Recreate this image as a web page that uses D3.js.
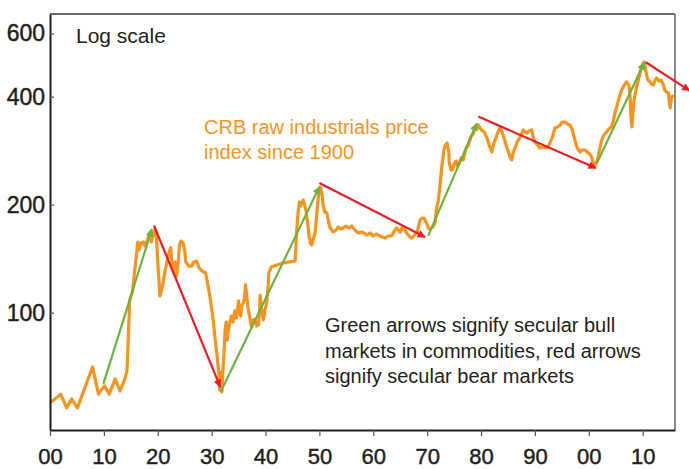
<!DOCTYPE html>
<html>
<head>
<meta charset="utf-8">
<script src="https://cdn.jsdelivr.net/npm/d3@7"></script>
<style>
  body { margin: 0; background: #fff; }
  svg { display: block; }
  .axis text { font-family: "Liberation Sans Narrow", "Arial Narrow", "Liberation Sans", Arial, sans-serif; font-size: 23px; fill: #231f20; stroke: #231f20; stroke-width: 0.45px; }
  .x-axis text { font-size: 22px; }
  .note { font-family: "Liberation Sans", Arial, sans-serif; font-size: 20px; fill: #231f20; }
</style>
</head>
<body>
<svg id="chart"></svg>
<script>
// CRB raw industrials
var years = [1900.0,1902.0,1903.1,1904.0,1905.1,1907.9,1909.0,1910.1,1911.0,1912.1,1913.0,1913.9,1914.3,1914.8,1915.3,1915.6,1916.3,1916.5,1916.9,1917.3,1917.6,1918.0,1918.3,1918.6,1918.8,1919.1,1919.5,1919.8,1920.0,1920.4,1920.8,1921.3,1921.7,1922.1,1922.4,1922.6,1922.9,1923.2,1923.5,1923.8,1924.0,1924.3,1924.7,1925.0,1925.2,1925.8,1926.3,1926.7,1927.2,1927.7,1928.2,1928.9,1929.3,1929.7,1930.3,1930.6,1931.0,1931.3,1931.5,1931.6,1931.9,1932.1,1932.3,1932.5,1932.7,1932.9,1933.1,1933.4,1933.7,1934.0,1934.3,1934.6,1935.0,1935.2,1935.4,1935.6,1935.9,1936.1,1936.3,1936.6,1936.8,1937.1,1937.4,1937.7,1938.0,1938.4,1938.7,1938.9,1939.0,1939.3,1939.6,1939.9,1940.2,1940.5,1940.6,1941.1,1942.1,1943.3,1944.5,1945.5,1945.8,1946.0,1946.3,1946.5,1946.7,1947.0,1947.2,1947.5,1947.8,1948.1,1948.4,1948.6,1948.8,1949.2,1949.5,1949.8,1950.2,1950.5,1950.7,1951.0,1951.4,1951.7,1952.0,1952.6,1953.1,1953.5,1954.0,1954.4,1954.9,1955.5,1956.0,1956.6,1957.2,1957.9,1958.8,1959.4,1960.0,1960.6,1961.2,1962.2,1962.7,1963.4,1963.8,1964.3,1964.6,1965.0,1965.3,1965.9,1966.3,1966.5,1967.0,1967.4,1967.7,1968.2,1968.5,1968.7,1969.0,1969.4,1969.8,1970.0,1970.4,1970.8,1971.2,1971.5,1971.7,1972.1,1972.4,1972.7,1972.9,1973.1,1973.4,1973.7,1974.0,1974.1,1974.4,1974.7,1975.0,1975.4,1975.6,1976.0,1976.3,1976.7,1977.0,1977.3,1977.6,1978.1,1978.6,1978.9,1979.2,1979.5,1979.8,1980.1,1980.6,1981.1,1981.5,1982.0,1982.2,1982.6,1983.0,1983.5,1983.9,1984.4,1984.7,1985.1,1985.4,1985.7,1985.9,1986.3,1986.7,1987.2,1987.5,1987.8,1988.2,1988.5,1988.9,1989.4,1989.6,1990.0,1990.5,1990.9,1991.5,1992.2,1992.5,1992.8,1993.3,1993.7,1994.2,1994.7,1995.1,1995.6,1996.0,1996.5,1996.9,1997.1,1997.4,1997.8,1998.1,1998.4,1998.8,1999.3,1999.9,2000.2,2000.5,2000.8,2001.0,2001.2,2001.6,2001.9,2002.4,2002.8,2003.3,2003.7,2004.2,2004.6,2004.9,2005.2,2005.5,2005.8,2006.1,2006.4,2006.7,2007.0,2007.3,2007.5,2007.7,2007.8,2008.0,2008.1,2008.3,2008.4,2008.8,2009.2,2009.5,2009.8,2010.1,2010.3,2010.5,2010.8,2011.0,2011.4,2011.6,2012.0,2012.3,2012.6,2013.0,2013.4,2013.8,2014.1,2014.4,2014.8,2014.9,2015.1,2015.3,2015.4,2015.7];
var values = [56.0,59.3,54.3,57.5,54.3,70.6,59.3,62.5,59.3,65.4,60.5,65.4,69.2,108.5,114.2,125.7,157.4,149.5,156.4,157.4,153.4,158.4,162.6,167.9,157.4,164.7,171.1,159.5,138.5,111.3,117.2,129.0,138.5,147.6,151.5,138.5,129.9,138.5,126.6,138.5,153.4,158.4,156.4,149.5,138.5,134.9,134.9,138.5,139.3,133.2,130.7,129.0,119.5,110.6,95.4,85.6,76.2,68.3,60.9,68.3,60.1,69.2,77.2,89.5,94.2,83.9,89.5,94.2,97.9,94.2,101.1,96.7,107.8,100.4,97.9,105.1,106.4,109.9,119.5,108.5,101.8,96.7,91.2,95.4,96.0,91.8,92.4,101.8,112.0,101.8,95.4,101.8,106.4,119.5,129.0,134.1,135.8,137.6,138.5,139.3,170.0,187.2,203.5,198.3,202.2,206.1,200.9,193.3,179.0,162.6,155.4,154.4,159.5,166.8,187.2,210.1,224.0,212.9,198.3,190.8,189.6,179.0,172.2,167.9,170.0,173.3,171.1,172.2,174.4,172.2,174.4,170.0,166.8,167.9,164.7,166.8,163.6,165.7,163.6,161.5,163.6,163.6,167.9,172.2,170.0,167.9,172.2,170.0,165.7,164.7,161.5,162.6,164.7,168.9,176.7,181.3,183.6,183.6,179.0,175.6,171.1,172.2,174.4,179.0,193.3,206.1,226.9,254.7,266.4,284.1,293.4,297.2,280.5,263.0,249.9,249.9,259.7,264.7,256.4,261.4,269.9,266.4,278.7,289.6,291.5,308.8,316.8,329.3,325.1,333.5,327.2,323.0,318.9,306.9,293.4,280.5,289.6,302.9,314.8,327.2,318.9,302.9,291.5,280.5,271.6,266.4,276.9,287.8,299.1,306.9,314.8,323.0,318.9,316.8,321.0,323.0,312.8,299.1,293.4,287.8,289.6,287.8,291.5,297.2,310.8,327.2,329.3,333.5,340.0,340.0,335.7,333.5,325.1,316.8,302.9,289.6,284.1,280.5,284.1,284.1,278.7,276.9,271.6,263.0,254.7,258.0,266.4,280.5,302.9,312.8,318.9,325.1,329.3,344.4,362.5,374.4,391.6,404.3,417.5,425.6,433.9,439.5,433.9,425.6,391.6,355.6,329.3,348.8,379.3,391.6,422.9,445.2,465.7,483.9,496.5,499.7,480.9,453.8,445.2,439.5,433.9,431.1,445.2,450.9,442.3,445.2,433.9,417.5,412.2,409.6,391.6,372.0,391.6,399.2,404.3];

// secular bull (green) and bear (red) arrows: [startYear, startValue, endYear, endValue]
var bullArrows = [[1909.9, 63.3, 1918.9, 170.8], [1931.7, 60.2, 1950.0, 224.5], [1970.2, 164, 1979.2, 337], [2001.5, 261, 2010.3, 498]];
var bearArrows = [[1919.3, 175, 1931.6, 62.1], [1950.0, 230, 1969.6, 162.5], [1979.5, 352, 2001.3, 253], [2010.6, 499, 2018.7, 416]];

var xTicks = [1900, 1910, 1920, 1930, 1940, 1950, 1960, 1970, 1980, 1990, 2000, 2010];
var yTicks = [100, 200, 400, 600];

var margin = { top: 14, right: 14, bottom: 39, left: 50 },
  width = 689 - margin.left - margin.right,
  height = 469 - margin.top - margin.bottom;

var svg = d3.select("#chart")
  .attr("width", 689)
  .attr("height", 469)
  .append("g")
  .attr("transform", "translate(" + margin.left + "," + margin.top + ")");

var x = d3.scaleLinear().domain([1900, 2016]).range([0, width]);
var y = d3.scaleLog().domain([47.1, 680]).range([height, 0]);

var defs = svg.append("defs");
[["head-green", "#6cb33f"], ["head-red", "#ec1c24"]].forEach(d => {
  defs.append("marker")
    .attr("id", d[0])
    .attr("markerUnits", "userSpaceOnUse")
    .attr("viewBox", "0 0 10 10")
    .attr("refX", 9).attr("refY", 5)
    .attr("markerWidth", 9).attr("markerHeight", 8)
    .attr("orient", "auto")
    .append("path")
    .attr("d", "M0,0L10,5L0,10z")
    .attr("fill", d[1]);
});

// frame top / right
svg.append("line")
  .attr("x1", 0).attr("x2", width).attr("y1", 0).attr("y2", 0)
  .attr("stroke", "#3a3a3a").attr("stroke-width", 1.5);
svg.append("line")
  .attr("x1", width).attr("x2", width).attr("y1", 0).attr("y2", height)
  .attr("stroke", "#8a8a8a").attr("stroke-width", 2);

// price line
var line = d3.line()
  .x((d, i) => x(years[i]))
  .y(d => y(d));

svg.append("path")
  .datum(values)
  .attr("fill", "none")
  .attr("stroke", "#f7941d")
  .attr("stroke-width", 3.2)
  .attr("stroke-linejoin", "round")
  .attr("d", line);

// arrows
svg.selectAll(".bull")
  .data(bullArrows)
  .enter()
  .append("line")
  .attr("class", "bull")
  .attr("x1", d => x(d[0])).attr("y1", d => y(d[1]))
  .attr("x2", d => x(d[2])).attr("y2", d => y(d[3]))
  .attr("stroke", "#6cb33f")
  .attr("stroke-width", 2.2)
  .attr("marker-end", "url(#head-green)");

svg.selectAll(".bear")
  .data(bearArrows)
  .enter()
  .append("line")
  .attr("class", "bear")
  .attr("x1", d => x(d[0])).attr("y1", d => y(d[1]))
  .attr("x2", d => x(d[2])).attr("y2", d => y(d[3]))
  .attr("stroke", "#ec1c24")
  .attr("stroke-width", 2.2)
  .attr("marker-end", "url(#head-red)");

// axes
var xAxis = svg.append("g")
  .attr("class", "axis x-axis")
  .attr("transform", "translate(0," + height + ")")
  .call(d3.axisBottom(x)
    .tickValues(xTicks)
    .tickSize(6)
    .tickSizeOuter(0)
    .tickPadding(12)
    .tickFormat(d => String(d % 100).padStart(2, "0")));

var yAxis = svg.append("g")
  .attr("class", "axis")
  .call(d3.axisLeft(y)
    .tickValues(yTicks)
    .tickSize(-4)
    .tickSizeOuter(0)
    .tickPadding(5)
    .tickFormat(d3.format("d")));

svg.selectAll(".axis .domain").attr("stroke", "#231f20").attr("stroke-width", 2);
svg.selectAll(".axis .tick line").attr("stroke", "#555").attr("stroke-width", 1.2);

// labels
svg.append("text")
  .attr("class", "note")
  .attr("x", 26).attr("y", 29)
  .style("font-size", "21px")
  .text("Log scale");

var orange = svg.append("text")
  .attr("class", "note")
  .style("fill", "#f7941d")
  .attr("x", 154).attr("y", 120);
orange.append("tspan").attr("x", 154).text("CRB raw industrials price");
orange.append("tspan").attr("x", 154).attr("dy", 25.3).text("index since 1900");

var note = svg.append("text")
  .attr("class", "note")
  .attr("x", 275).attr("y", 318);
["Green arrows signify secular bull", "markets in commodities, red arrows", "signify secular bear markets"]
  .forEach((t, i) => {
    note.append("tspan").attr("x", 275).attr("dy", i ? 25.7 : 0).text(t);
  });
</script>
</body>
</html>
